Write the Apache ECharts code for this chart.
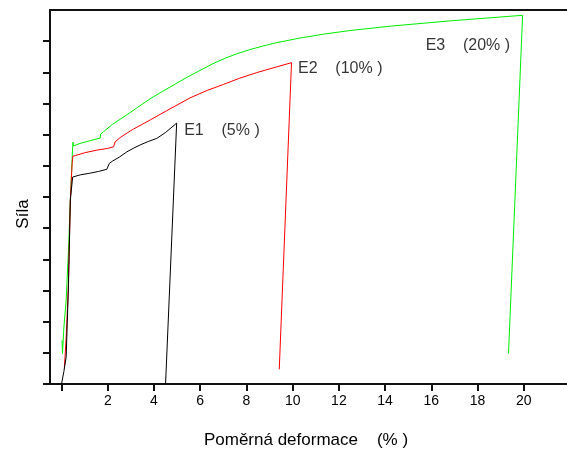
<!DOCTYPE html>
<html>
<head>
<meta charset="utf-8">
<script src="https://cdn.jsdelivr.net/npm/echarts@6/dist/echarts.min.js"></script>
<style>
  html, body { margin: 0; padding: 0; background: #fff; }
  #chart { width: 567px; height: 450px; }
</style>
</head>
<body>
<div id="chart"></div>
<script>
// Force vs. relative strain curves for three specimens: [strain %, force]
const e1Curve = [
  [0.0, 0.0], [0.1, 0.4], [0.2, 0.87], [0.3, 3.2], [0.38, 5.9], [0.48, 6.64],
  [0.52, 6.62], [0.81, 6.71], [1.2, 6.76], [1.6, 6.82], [1.96, 6.89], [2.02, 6.95],
  [2.07, 7.08], [2.2, 7.15], [2.5, 7.28], [2.83, 7.45], [3.1, 7.56], [3.4, 7.67],
  [3.75, 7.78], [4.12, 7.88], [4.5, 8.07], [4.98, 8.37], [4.5, 0.0]
];
const e2Curve = [
  [0.12, 0.5], [0.2, 1.5], [0.29, 3.0], [0.38, 5.9], [0.46, 7.1], [0.49, 7.31],
  [0.55, 7.25], [0.6, 7.33], [1.0, 7.42], [1.5, 7.5], [2.0, 7.56], [2.25, 7.61],
  [2.32, 7.77], [2.54, 7.91], [2.83, 8.05], [3.11, 8.18], [3.83, 8.47], [4.55, 8.77],
  [5.56, 9.18], [6.3, 9.42], [7.0, 9.61], [7.7, 9.81], [8.44, 9.99], [9.19, 10.15],
  [9.95, 10.31], [9.42, 0.47]
];
const e3Curve = [
  [0.02, 1.4], [0.04, 0.98], [0.1, 1.8], [0.2, 2.7], [0.3, 4.3], [0.38, 5.9],
  [0.45, 7.1], [0.49, 7.76], [0.52, 7.64], [0.8, 7.72], [1.2, 7.8], [1.67, 7.89],
  [1.69, 8.02], [1.81, 8.09], [2.2, 8.33], [2.75, 8.6], [3.3, 8.88], [3.83, 9.15],
  [4.37, 9.39], [4.91, 9.62], [5.45, 9.85], [5.99, 10.06], [6.53, 10.27],
  [7.07, 10.45], [7.6, 10.6], [8.15, 10.73], [8.7, 10.84], [9.23, 10.94],
  [10.31, 11.1], [11.39, 11.23], [12.47, 11.34], [14.2, 11.48], [16.79, 11.65],
  [19.95, 11.83], [19.34, 0.98]
];

const seriesNames = ['E1', 'E2', 'E3'];
const seriesColors = ['#000000', '#ff0000', '#00ee00'];
const peakLabels = ['E1    (5% )', 'E2    (10% )', 'E3    (20% )'];

const xTickValues = [0, 2, 4, 6, 8, 10, 12, 14, 16, 18, 20];
const xLabelValues = [2, 4, 6, 8, 10, 12, 14, 16, 18, 20];
const yTickValues = [0, 1, 2, 3, 4, 5, 6, 7, 8, 9, 10, 11];

const xTitle = 'Poměrná deformace    (% )';
const yTitle = 'Síla';

const curves = [e1Curve, e2Curve, e3Curve];
const FONT = 'Liberation Sans, Arial, Helvetica, sans-serif';

// the peak (maximum force) of each curve carries its label
function peakOf(curve) {
  return curve.reduce((best, p) => (p[1] > best[1] ? p : best), curve[0]);
}

const labelPlacement = [
  { position: 'right', offset: [2, 7] },
  { position: 'right', offset: [1, 6] },
  { position: 'left', offset: [-7, 30] }
];

const chart = echarts.init(document.getElementById('chart'), null, { renderer: 'canvas' });

const series = curves.map((c, i) => ({
  name: seriesNames[i],
  type: 'line',
  data: c,
  showSymbol: false,
  symbol: 'none',
  lineStyle: { color: seriesColors[i], width: 1 },
  z: 5 - i,
  animation: false
}));

series.push({
  type: 'scatter',
  silent: true,
  animation: false,
  symbolSize: 1,
  itemStyle: { color: 'rgba(0,0,0,0)' },
  data: curves.map((c, i) => ({
    value: peakOf(c),
    label: {
      show: true,
      formatter: peakLabels[i],
      position: labelPlacement[i].position,
      offset: labelPlacement[i].offset,
      color: '#000',
      fontSize: 16,
      fontFamily: FONT
    }
  }))
});

chart.setOption({
  backgroundColor: '#ffffff',
  animation: false,
  grid: {
    left: 50, top: 10, right: -3, bottom: 66,
    outerBoundsMode: 'none',
    containLabel: false,
    show: true, borderColor: '#111', borderWidth: 2, backgroundColor: 'transparent'
  },
  xAxis: {
    type: 'value',
    min: -0.5,
    max: 22,
    splitLine: { show: false },
    axisLine: { show: true, onZero: false, lineStyle: { color: '#111', width: 2 } },
    axisTick: { show: true, inside: false, length: 7, customValues: xTickValues,
      lineStyle: { color: '#111', width: 2 } },
    axisLabel: { show: true, customValues: xLabelValues, margin: 10,
      color: '#000', fontSize: 14, fontFamily: FONT },
    name: xTitle,
    nameLocation: 'middle',
    nameGap: 48,
    nameTextStyle: { color: '#000', fontSize: 17, fontFamily: FONT, padding: [0, 8, 0, 0] }
  },
  yAxis: {
    type: 'value',
    min: 0,
    max: 12,
    splitLine: { show: false },
    axisLine: { show: true, onZero: false, lineStyle: { color: '#111', width: 2 } },
    axisTick: { show: true, inside: false, length: 7, customValues: yTickValues,
      lineStyle: { color: '#111', width: 2 } },
    axisLabel: { show: false },
    name: yTitle,
    nameLocation: 'middle',
    nameRotate: 90,
    nameGap: 18,
    nameTextStyle: { color: '#000', fontSize: 17, fontFamily: FONT, padding: [0, 34, 0, 0] }
  },
  series: series
});
</script>
</body>
</html>
